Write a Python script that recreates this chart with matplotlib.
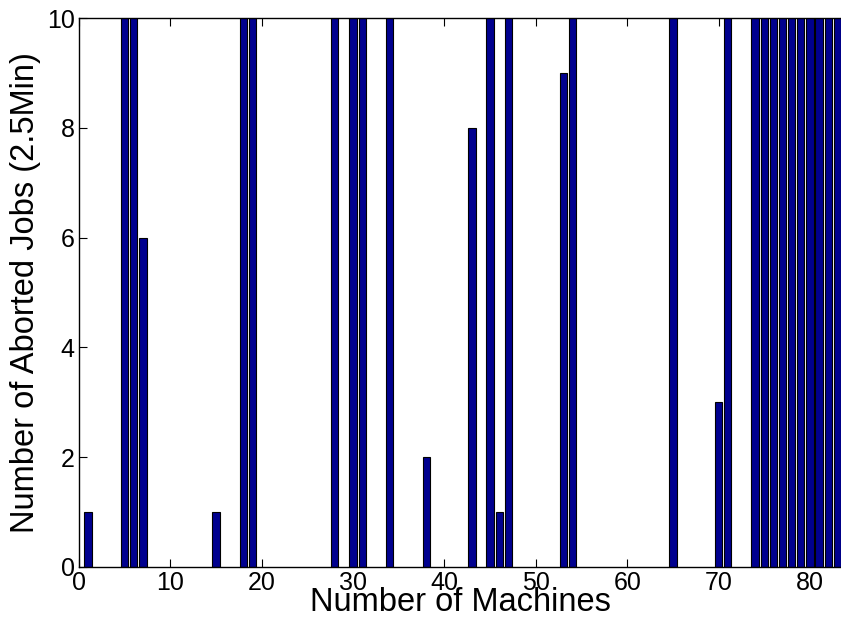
import numpy as np
import matplotlib.pyplot as plt

plt.rcParams['font.family'] = ['Liberation Sans', 'DejaVu Sans']

# machine index -> aborted jobs (values above 10 are clipped by the axis)
machines = [1, 5, 6, 7, 15, 18, 19, 28, 30, 31, 34, 38, 43, 45, 46, 47,
            53, 54, 65, 70, 71, 74, 75, 76, 77, 78, 79, 80, 81, 82, 83]
aborted = [1, 10, 10, 6, 1, 10, 10, 10, 10, 10, 10, 2, 8, 10, 1, 10,
           9, 10, 10, 3, 10, 10, 10, 10, 10, 10, 10, 10, 10, 10, 10]
xticks = [0, 10, 20, 30, 40, 50, 60, 70, 80]
yticks = [0, 2, 4, 6, 8, 10]

fig = plt.figure(figsize=(8.41, 6.28), dpi=100)
ax = fig.add_axes([79 / 841, 61 / 628, 762 / 841, 549 / 628])

ax.bar(machines, aborted, width=0.8, color='#00008f', edgecolor='black',
       linewidth=0.8, zorder=2)

ax.set_xlim(0, 83.4)
ax.set_ylim(0, 10)
ax.set_xticks(xticks)
ax.set_yticks(yticks)
ax.tick_params(direction='in', length=6, width=0.8, labelsize=18,
               top=True, right=False, pad=3)
ax.spines['right'].set_visible(False)
for s in ['left', 'top', 'bottom']:
    ax.spines[s].set_linewidth(1.0)

ax.set_xlabel('Number of Machines', fontsize=23.5, labelpad=-6)
ax.set_ylabel('Number of Aborted Jobs (2.5Min)', fontsize=23.5, labelpad=4)

fig.savefig('out.png', dpi=100)
